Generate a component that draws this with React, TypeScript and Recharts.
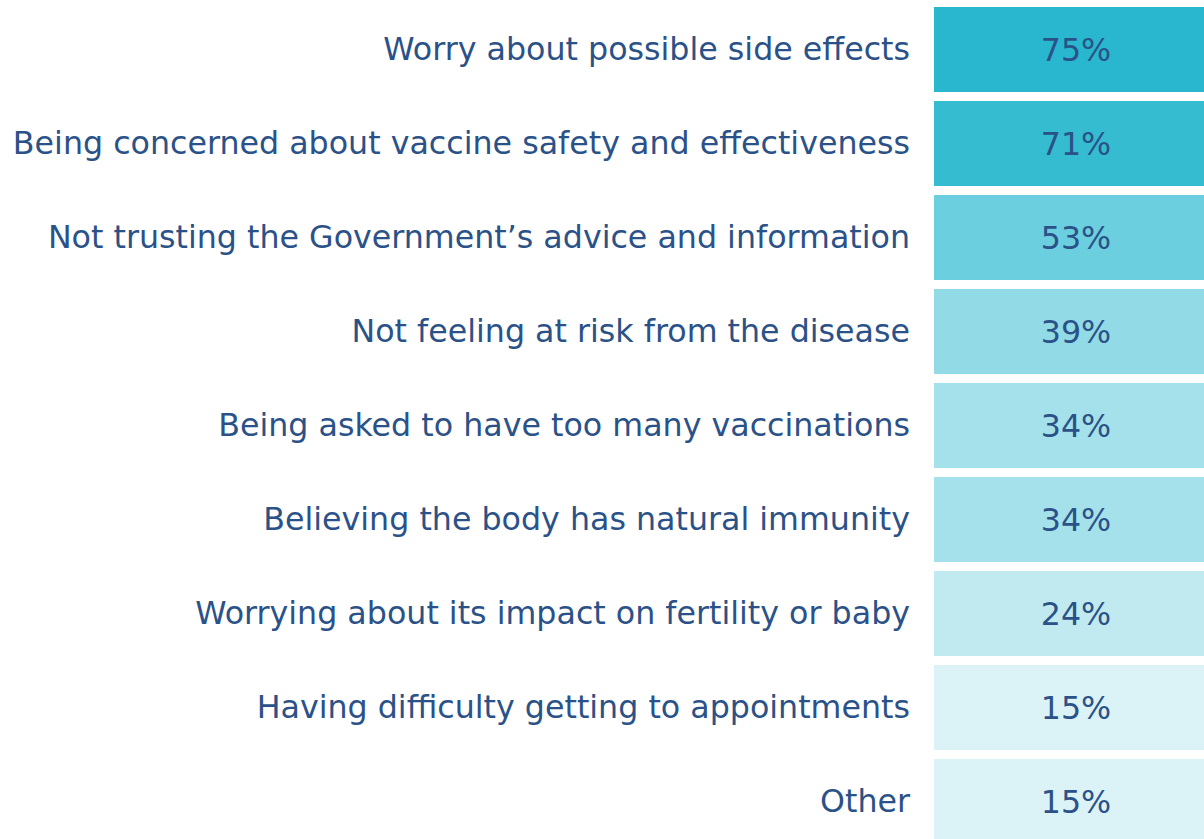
import { Bar, BarChart, Cell, LabelList, XAxis, YAxis } from "recharts";

const reasons = [
  "Worry about possible side effects",
  "Being concerned about vaccine safety and effectiveness",
  "Not trusting the Government\u2019s advice and information",
  "Not feeling at risk from the disease",
  "Being asked to have too many vaccinations",
  "Believing the body has natural immunity",
  "Worrying about its impact on fertility or baby",
  "Having difficulty getting to appointments",
  "Other",
];

const shares = [75, 71, 53, 39, 34, 34, 24, 15, 15];

// shade of each cell, darker for bigger share
const shades = [
  "#29b7cf",
  "#35bcd1",
  "#6bcfdf",
  "#91dae6",
  "#a4e1ea",
  "#a4e1ea",
  "#c1eaf0",
  "#dbf3f6",
  "#dbf3f6",
];

const TEXT = "#2b5288";
const FONT = "'DejaVu Sans', Verdana, sans-serif";

const rows = reasons.map((reason, i) => ({ reason, pct: shares[i], cell: 1 }));

export default function App() {
  return (
    <div
      style={{
        position: "absolute",
        left: 0,
        top: 0,
        width: 1204,
        height: 839,
        overflow: "hidden",
        background: "#fff",
      }}
    >
      {/* the value column runs past the right edge, as in the source image */}
      <BarChart
        width={1204}
        height={848}
        data={rows}
        layout="vertical"
        margin={{ top: 2, right: -14, bottom: 0, left: 0 }}
      >
        <XAxis type="number" domain={[0, 1]} hide />
        <YAxis
          type="category"
          dataKey="reason"
          width={934}
          axisLine={false}
          tickLine={false}
          tickSize={0}
          tickMargin={24}
          interval={0}
          tick={{ fill: TEXT, fontSize: 31.7, fontFamily: FONT }}
        />
        <Bar dataKey="cell" barSize={85} isAnimationActive={false}>
          {rows.map((r, i) => (
            <Cell key={r.reason} fill={shades[i]} />
          ))}
          <LabelList
            dataKey="pct"
            position="center"
            formatter={(v: any) => `${v}%`}
            style={{ fill: TEXT, fontSize: 31.7, fontFamily: FONT }}
          />
        </Bar>
      </BarChart>
    </div>
  );
}
